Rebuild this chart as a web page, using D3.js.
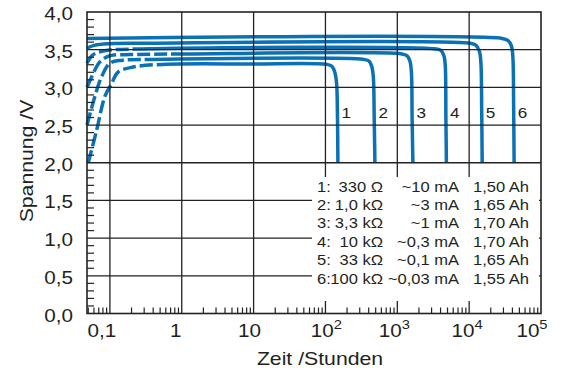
<!DOCTYPE html>
<html>
<head>
<meta charset="utf-8">
<script src="https://cdn.jsdelivr.net/npm/d3@7"></script>
<style>
  body { margin: 0; background: #fff; }
  svg { display: block; font-family: "Liberation Sans", Arial, Helvetica, sans-serif; }
</style>
</head>
<body>
<svg id="chart" width="570" height="372"></svg>
<script>
// Discharge curves: [time in hours, cell voltage in V]
const curve1 = [[0.05, 2.0], [0.0653, 2.43], [0.0852, 2.88], [0.1056, 3.05], [0.129, 3.2], [0.209, 3.27], [0.547, 3.305], [9, 3.31], [105, 3.305], [123, 3.28], [135, 3.2], [143, 3.05], [147, 2.6], [149, 2.0]];
const curve2 = [[0.048, 2.5], [0.0618, 2.88], [0.0766, 3.14], [0.1, 3.32], [0.152, 3.36], [0.36, 3.37], [343, 3.37], [403, 3.35], [443, 3.27], [465, 3.12], [477, 2.6], [488, 2.0]];
const curve3 = [[0.048, 3.0], [0.0618, 3.23], [0.0726, 3.34], [0.1, 3.42], [0.19, 3.435], [1, 3.443], [1159, 3.443], [1361, 3.42], [1497, 3.35], [1572, 3.2], [1607, 2.6], [1648, 2.0]];
const curve4 = [[0.048, 3.32], [0.058, 3.43], [0.0726, 3.47], [0.1, 3.495], [0.26, 3.51], [3443, 3.51], [4045, 3.49], [4455, 3.42], [4645, 3.3], [4746, 2.6], [4823, 2.0]];
const curve5 = [[0.048, 3.52], [0.0618, 3.56], [0.1, 3.58], [0.3, 3.585], [10232, 3.585], [12400, 3.56], [13890, 3.48], [14560, 3.33], [14950, 2.7], [15180, 2.0]];
const curve6 = [[0.048, 3.65], [28600, 3.65], [34600, 3.625], [38700, 3.55], [40600, 3.4], [41550, 2.8], [42250, 2.0]];
const curves = [curve1, curve2, curve3, curve4, curve5, curve6];
const curveNames = ["1", "2", "3", "4", "5", "6"];
// early part of each curve drawn dashed up to this time (h); 0 = solid throughout
const dashUntil = [0.5, 0.4, 0.75, 0.35, 0, 0];

// Load table
const legendIds = ["1:", "2:", "3:", "4:", "5:", "6:"];
const resistances = ["330 Ω", "1,0 kΩ", "3,3 kΩ", "10 kΩ", "33 kΩ", "100 kΩ"];
const currents = ["~10 mA", "~3 mA", "~1 mA", "~0,3 mA", "~0,1 mA", "~0,03 mA"];
const capacities = ["1,50 Ah", "1,65 Ah", "1,70 Ah", "1,70 Ah", "1,65 Ah", "1,55 Ah"];

// Axes
const xTickValues = [0.1, 1, 10, 100, 1000, 10000, 100000];
const xTickBase = ["0,1", "1", "10", "10", "10", "10", "10"];
const xTickExp = ["", "", "", "2", "3", "4", "5"];
const yTickValues = [0, 0.5, 1, 1.5, 2, 2.5, 3, 3.5, 4];
const yTickLabels = ["0,0", "0,5", "1,0", "1,5", "2,0", "2,5", "3,0", "3,5", "4,0"];
const xTitle = "Zeit /Stunden";
const yTitle = "Spannung /V";

const BLUE = "#0b71b5";
const INK = "#231f20";
const SX = 1.18; // horizontal glyph stretch of all lettering

const svg = d3.select("#chart");
const x = d3.scaleLog().domain([0.048, 1e5]).range([87, 541]);
const y = d3.scaleLinear().domain([0, 4]).range([313.5, 12]);
const [x0, x1] = x.range();
const [y0, y1] = y.range();

function label(parent, px, py, str, opts = {}) {
  const rot = opts.rotate ? ` rotate(${opts.rotate})` : "";
  const g = parent.append("g").attr("transform", `translate(${px},${py})${rot} scale(${SX},1)`);
  const t = g.append("text")
    .attr("text-anchor", opts.anchor || "start")
    .attr("font-size", opts.size || 14)
    .attr("fill", INK);
  if (str !== null) t.text(str);
  return t;
}

// ---- curves ----
const line = d3.line()
  .x(d => x(d[0]))
  .y(d => y(d[1]))
  .curve(d3.curveCatmullRom.alpha(0.5));

const gCurves = svg.append("g");
const DASH = 13, GAP = 4;
curves.forEach((c, i) => {
  const p = gCurves.append("path")
    .attr("d", line(c))
    .attr("fill", "none")
    .attr("stroke", BLUE)
    .attr("stroke-width", 3.5)
    .attr("stroke-linejoin", "round");
  if (dashUntil[i] > 0) {
    const node = p.node();
    const L = node.getTotalLength();
    const xt = x(dashUntil[i]);
    let lo = 0, hi = L;
    for (let k = 0; k < 40; k++) {
      const mid = (lo + hi) / 2;
      if (node.getPointAtLength(mid).x < xt) lo = mid; else hi = mid;
    }
    const arr = [];
    let s = 0;
    while (s + DASH + GAP <= lo) { arr.push(DASH, GAP); s += DASH + GAP; }
    arr.push(L + 10);
    p.attr("stroke-dasharray", arr.join(" "));
  }
});

// curve numbers beside the final drop
curves.forEach((c, i) => {
  const last = c[c.length - 1];
  label(svg, x(last[0]) + 8.3, y(2.6), curveNames[i], { anchor: "middle", size: 14.5 });
});

// ---- grid ----
const gGrid = svg.append("g").attr("stroke", "#222").attr("stroke-width", 1.3);
xTickValues.slice(0, -1).forEach(v => {
  gGrid.append("line").attr("x1", x(v)).attr("x2", x(v)).attr("y1", y1).attr("y2", y0);
});
yTickValues.slice(1, -1).forEach(v => {
  gGrid.append("line").attr("x1", x0).attr("x2", x1).attr("y1", y(v)).attr("y2", y(v));
});

// ---- load table ----
svg.append("rect")
  .attr("x", 312).attr("y", 177).attr("width", 227).attr("height", 124)
  .attr("fill", "#fff");
const rowY = i => 191.5 + i * 18.4;
legendIds.forEach((id, i) => {
  label(svg, 317, rowY(i), id, { size: 14 });
  label(svg, 383, rowY(i), resistances[i], { anchor: "end", size: 14 });
  label(svg, 459, rowY(i), currents[i], { anchor: "end", size: 14 });
  label(svg, 473, rowY(i), capacities[i], { size: 14 });
});

// ---- frame and minor ticks ----
const gTicks = svg.append("g").attr("stroke", "#222").attr("stroke-width", 1.2);
for (let d = -2; d <= 4; d++) {
  for (let m = 2; m <= 9; m++) {
    const v = m * Math.pow(10, d);
    if (v < x.domain()[0] || v > x.domain()[1]) continue;
    gTicks.append("line").attr("x1", x(v)).attr("x2", x(v)).attr("y1", y0).attr("y2", y0 - 6);
  }
}
for (let k = 1; k < 40; k++) {
  if (k % 5 === 0) continue;
  const v = k / 10;
  gTicks.append("line").attr("x1", x0).attr("x2", x0 + 7).attr("y1", y(v)).attr("y2", y(v));
}
svg.append("rect")
  .attr("x", x0).attr("y", y1).attr("width", x1 - x0).attr("height", y0 - y1)
  .attr("fill", "none").attr("stroke", "#222").attr("stroke-width", 1.6);

// ---- tick labels ----
yTickValues.forEach((v, i) => {
  label(svg, 73, y(v) + 8, yTickLabels[i], { anchor: "end", size: 17.5 });
});
const xNudge = [-8, -6, -4, 1, -3, -2, -9];
xTickValues.forEach((v, i) => {
  const t = label(svg, x(v) + xNudge[i], 337, null, { anchor: "middle", size: 17.5 });
  t.append("tspan").text(xTickBase[i]);
  if (xTickExp[i]) {
    t.append("tspan").attr("dy", -8).attr("font-size", 12.5).text(xTickExp[i]);
  }
});

// ---- axis titles ----
label(svg, 320, 365, xTitle, { anchor: "middle", size: 18 });
label(svg, 33, 161, yTitle, { anchor: "middle", size: 18, rotate: -90 });
</script>
</body>
</html>
